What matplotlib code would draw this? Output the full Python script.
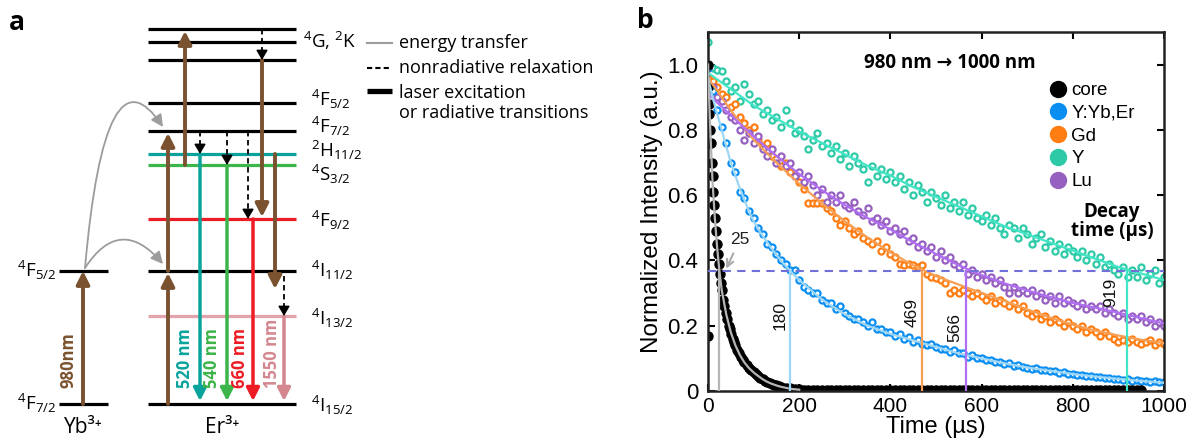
import numpy as np
import matplotlib
matplotlib.use('Agg')
import matplotlib.pyplot as plt
from matplotlib.lines import Line2D
from matplotlib.patches import FancyArrowPatch
from matplotlib.path import Path

plt.rcParams['font.family'] = ['Open Sans', 'DejaVu Sans']
plt.rcParams['mathtext.fontset'] = 'custom'
plt.rcParams['mathtext.rm'] = 'Open Sans'
plt.rcParams['mathtext.it'] = 'Open Sans:italic'
plt.rcParams['mathtext.bf'] = 'Open Sans:bold'
plt.rcParams['mathtext.default'] = 'regular'

# ------------------------------------------------------------------
# panel a : energy level diagram (y = position from the top, in px)
brown = '#7a5230'
teal = '#0aa39b'
green = '#3cb54a'
red = '#ed1c24'
pink = '#d4878f'
pink_level = '#e3a3aa'

er_levels = [29, 42, 60, 103, 131, 154, 165, 219, 271, 316, 404]
er_level_colors = ['k', 'k', 'k', 'k', 'k', teal, green, red, 'k', pink_level, 'k']
er_labels = [r'$^{4}G$, $^{2}K$', r'$^{4}F_{5/2}$', r'$^{4}F_{7/2}$', r'$^{2}H_{11/2}$',
             r'$^{4}S_{3/2}$', r'$^{4}F_{9/2}$', r'$^{4}I_{11/2}$', r'$^{4}I_{13/2}$', r'$^{4}I_{15/2}$']
er_label_y = [48, 106, 133, 157, 181, 227, 277, 325, 412]
er_label_x = [303, 311, 311, 311, 311, 311, 311, 311, 311]

yb_levels = [271, 404]
yb_labels = [r'$^{4}F_{5/2}$', r'$^{4}F_{7/2}$']
yb_label_y = [277, 410]

# (x, from, to, colour)
solid_arrows = [(83, 404, 271, brown), (168, 404, 273, brown), (168, 271, 133, brown),
                (185, 165, 31, brown), (262, 60, 217, brown), (275, 154, 289, brown),
                (200, 154, 401, teal), (227, 165, 401, green), (253, 219, 401, red),
                (284, 316, 401, pink)]
dashed_arrows = [(262, 29, 60), (200, 131, 154), (227, 131, 165), (248, 131, 219), (284, 276, 316)]

wl_text = ['980nm', '520 nm', '540 nm', '660 nm', '1550 nm']
wl_x = [68, 185, 212, 240, 272]
wl_colors = [brown, teal, green, red, pink]

# ------------------------------------------------------------------
# panel b : decay curves
t10 = np.arange(0, 1001, 10)

y_data = [1.07, 0.99, 0.985, 0.98, 0.95, 0.92, 0.93, 0.89, 0.94, 0.91,
          0.88, 0.89, 0.85, 0.86, 0.83, 0.84, 0.81, 0.86, 0.82, 0.79,
          0.80, 0.78, 0.74, 0.77, 0.79, 0.75, 0.76, 0.73, 0.75, 0.71,
          0.73, 0.69, 0.72, 0.70, 0.68, 0.64, 0.69, 0.66, 0.68, 0.65,
          0.67, 0.64, 0.66, 0.62, 0.64, 0.60, 0.63, 0.61, 0.58, 0.61,
          0.59, 0.57, 0.60, 0.56, 0.58, 0.55, 0.58, 0.54, 0.56, 0.53,
          0.52, 0.54, 0.51, 0.53, 0.50, 0.48, 0.51, 0.50, 0.47, 0.50,
          0.48, 0.45, 0.47, 0.48, 0.44, 0.46, 0.43, 0.45, 0.42, 0.44,
          0.43, 0.41, 0.43, 0.40, 0.42, 0.39, 0.41, 0.38, 0.39, 0.37,
          0.36, 0.38, 0.35, 0.37, 0.35, 0.38, 0.34, 0.36, 0.37, 0.33,
          0.35]
lu_data = [0.99, 0.93, 0.90, 0.89, 0.86, 0.84, 0.83, 0.80, 0.77, 0.79,
           0.76, 0.78, 0.74, 0.72, 0.74, 0.70, 0.72, 0.69, 0.70, 0.66,
           0.67, 0.64, 0.66, 0.63, 0.60, 0.62, 0.58, 0.60, 0.58, 0.60,
           0.57, 0.56, 0.58, 0.55, 0.54, 0.56, 0.52, 0.53, 0.51, 0.52,
           0.49, 0.50, 0.48, 0.49, 0.46, 0.47, 0.44, 0.45, 0.43, 0.44,
           0.41, 0.43, 0.40, 0.41, 0.39, 0.38, 0.39, 0.36, 0.37, 0.35,
           0.36, 0.34, 0.35, 0.33, 0.34, 0.32, 0.30, 0.32, 0.30, 0.31,
           0.30, 0.31, 0.29, 0.30, 0.28, 0.29, 0.27, 0.29, 0.27, 0.28,
           0.27, 0.26, 0.27, 0.25, 0.26, 0.25, 0.26, 0.24, 0.25, 0.24,
           0.23, 0.24, 0.22, 0.23, 0.22, 0.23, 0.21, 0.22, 0.20, 0.21,
           0.20]
gd_data = [0.96, 0.95, 0.93, 0.91, 0.90, 0.87, 0.88, 0.84, 0.82, 0.80,
           0.81, 0.77, 0.75, 0.76, 0.72, 0.71, 0.69, 0.70, 0.67, 0.66,
           0.64, 0.62, 0.575, 0.575, 0.575, 0.575, 0.56, 0.55, 0.53, 0.51,
           0.52, 0.50, 0.48, 0.49, 0.47, 0.46, 0.45, 0.46, 0.43, 0.44,
           0.42, 0.41, 0.39, 0.385, 0.39, 0.385, 0.38, 0.385, 0.36, 0.35,
           0.345, 0.34, 0.33, 0.30, 0.31, 0.30, 0.31, 0.30, 0.29, 0.30,
           0.29, 0.28, 0.29, 0.27, 0.28, 0.27, 0.26, 0.27, 0.25, 0.26,
           0.24, 0.23, 0.24, 0.22, 0.23, 0.21, 0.22, 0.21, 0.20, 0.21,
           0.20, 0.19, 0.20, 0.18, 0.19, 0.18, 0.17, 0.18, 0.17, 0.16,
           0.15, 0.155, 0.15, 0.16, 0.15, 0.145, 0.15, 0.155, 0.14, 0.15,
           0.145]
ybe_data = [0.99, 0.92, 0.86, 0.81, 0.76, 0.70, 0.67, 0.61, 0.59, 0.55,
            0.53, 0.50, 0.48, 0.45, 0.44, 0.42, 0.40, 0.39, 0.37, 0.37,
            0.34, 0.32, 0.31, 0.30, 0.30, 0.28, 0.27, 0.27, 0.25, 0.26,
            0.24, 0.23, 0.22, 0.22, 0.21, 0.20, 0.21, 0.19, 0.19, 0.18,
            0.18, 0.17, 0.175, 0.16, 0.165, 0.15, 0.155, 0.145, 0.14, 0.145,
            0.135, 0.13, 0.13, 0.12, 0.125, 0.115, 0.115, 0.105, 0.11, 0.10,
            0.10, 0.095, 0.095, 0.088, 0.09, 0.082, 0.085, 0.078, 0.08, 0.074,
            0.072, 0.068, 0.07, 0.064, 0.065, 0.06, 0.062, 0.056, 0.058, 0.053,
            0.052, 0.049, 0.05, 0.045, 0.047, 0.042, 0.044, 0.04, 0.041, 0.037,
            0.038, 0.034, 0.036, 0.032, 0.034, 0.03, 0.032, 0.029, 0.03, 0.027,
            0.028]

core_t = [0, 1, 1, 2, 2, 3, 4, 6, 8, 10, 12, 14, 16, 18, 20, 22, 24, 26, 28, 30,
          33, 36, 39, 42, 45, 48, 51, 54, 57, 60, 64, 68, 72, 76, 80, 85, 90, 95, 100,
          105, 110, 115, 120, 125, 130, 135, 140, 145, 150, 155, 160, 170, 180, 190, 200,
          210, 220, 230, 240, 250, 260, 270, 280, 290, 300, 310, 320, 330, 340, 350,
          360, 370, 380, 390, 400, 410, 420, 430, 440, 450, 460, 470, 480, 490, 500,
          510, 520, 530, 540, 550, 560, 570, 580, 590, 600, 610, 620, 630, 640, 650,
          660, 670, 680, 690, 700, 710, 720, 730, 740, 750, 760, 770, 780, 790, 800,
          810, 820, 830, 840, 850, 860, 870, 880, 890, 900, 910, 920, 930, 940, 950]
core_data = [1.0, 0.93, 0.17, 0.85, 0.76, 0.88, 0.80, 0.76, 0.70, 0.66, 0.61, 0.57, 0.53, 0.49,
             0.45, 0.42, 0.39, 0.36, 0.33, 0.31, 0.28, 0.26, 0.24, 0.22, 0.20, 0.19, 0.175,
             0.16, 0.15, 0.14, 0.125, 0.115, 0.105, 0.095, 0.088, 0.079, 0.071, 0.064, 0.057,
             0.051, 0.046, 0.041, 0.036, 0.032, 0.028, 0.025, 0.022, 0.019, 0.017, 0.015,
             0.013, 0.010, 0.008, 0.006, 0.005,
             0.004, 0.003, 0.004, 0.002, 0.003, 0.004, 0.002, 0.003, 0.002, 0.004,
             0.003, 0.002, 0.003, 0.004, 0.002, 0.003, 0.002, 0.004, 0.003, 0.002,
             0.003, 0.004, 0.002, 0.003, 0.002, 0.003, 0.004, 0.002, 0.003, 0.002,
             0.004, 0.003, 0.002, 0.003, 0.004, 0.002, 0.003, 0.002, 0.004, 0.003,
             0.002, 0.003, 0.004, 0.002, 0.003, 0.002, 0.003, 0.004, 0.002, 0.003,
             0.002, 0.004, 0.003, 0.002, 0.003, 0.004, 0.002, 0.003, 0.002, 0.004,
             0.003, 0.002, 0.003, 0.004, 0.002, 0.003, 0.002, 0.003, 0.004, 0.002,
             0.003, 0.004, 0.002, 0.003, 0.002]

# fitted curves
fit_t = np.arange(0, 1001, 50)
y_fit = [0.975, 0.925, 0.875, 0.835, 0.795, 0.76, 0.725, 0.69, 0.66, 0.625, 0.595,
         0.565, 0.535, 0.505, 0.48, 0.455, 0.43, 0.405, 0.38, 0.36, 0.34]
lu_fit = [0.91, 0.845, 0.78, 0.72, 0.665, 0.615, 0.57, 0.53, 0.495, 0.455, 0.42,
          0.385, 0.355, 0.33, 0.308, 0.288, 0.27, 0.255, 0.24, 0.223, 0.207]
gd_fit = [0.96, 0.86, 0.77, 0.70, 0.635, 0.575, 0.52, 0.47, 0.425, 0.385, 0.352,
          0.326, 0.30, 0.276, 0.25, 0.225, 0.203, 0.185, 0.17, 0.157, 0.147]
ybe_fit_t = [0, 10, 20, 30, 40, 50, 60, 70, 80, 90, 100, 120, 140, 160, 180, 200, 250, 300,
             350, 400, 450, 500, 550, 600, 650, 700, 750, 800, 850, 900, 950, 1000]
ybe_fit = [0.96, 0.90, 0.85, 0.80, 0.75, 0.70, 0.66, 0.62, 0.585, 0.55, 0.52, 0.475, 0.435,
           0.40, 0.368, 0.34, 0.28, 0.235, 0.20, 0.175, 0.155, 0.135, 0.115, 0.10, 0.085,
           0.072, 0.062, 0.052, 0.044, 0.037, 0.031, 0.025]
core_fit_t = [0, 5, 10, 15, 20, 25, 30, 40, 50, 60, 70, 80, 90, 100, 110, 120, 130, 140,
              150, 160, 170, 180, 200]
core_fit = [1.0, 0.80, 0.64, 0.53, 0.44, 0.368, 0.31, 0.235, 0.18, 0.14, 0.11, 0.087, 0.07,
            0.057, 0.046, 0.036, 0.028, 0.022, 0.017, 0.013, 0.01, 0.007, 0.004]

series_names = ['core', 'Y:Yb,Er', 'Gd', 'Y', 'Lu']
point_colors = ['black', '#0a8ef2', '#ff7d12', '#2ecaa8', '#9660c0']
fit_colors = ['#b5b5b5', '#9ed7f6', '#f7a055', '#42e6c6', '#b06ff2']

# decay times (1/e crossing) in the order core, Y:Yb,Er, Gd, Y, Lu
decay_times = [25, 180, 469, 919, 566]
e_level = 0.368

# ------------------------------------------------------------------
fig = plt.figure(figsize=(11.91, 4.44), dpi=100)

axa = fig.add_axes([0, 0, 690 / 1191, 1])
axa.set_xlim(0, 690)
axa.set_ylim(444, 0)
axa.axis('off')

for y, c in zip(er_levels, er_level_colors):
    axa.plot([148, 296], [y, y], color=c, lw=2.3, solid_capstyle='butt', zorder=1)
for y in yb_levels:
    axa.plot([59, 108], [y, y], color='k', lw=2.3, solid_capstyle='butt', zorder=1)

for lab, x, y in zip(er_labels, er_label_x, er_label_y):
    axa.text(x, y, lab, fontsize=13.5, va='baseline', ha='left')
for lab, y in zip(yb_labels, yb_label_y):
    axa.text(17, y, lab, fontsize=13.5, va='baseline', ha='left')
axa.text(83, 433, 'Yb\u00b3\u207a', fontsize=15, ha='center', va='baseline')
axa.text(222, 433, 'Er\u00b3\u207a', fontsize=15, ha='center', va='baseline')

for x, y0, y1, c in solid_arrows:
    w = 2.8 if c == brown else 2.5
    axa.annotate('', xy=(x, y1), xytext=(x, y0),
                 arrowprops=dict(arrowstyle='-|>,head_length=0.55,head_width=0.28',
                                 color=c, lw=w, mutation_scale=14, shrinkA=0, shrinkB=0),
                 zorder=3)

for x, y0, y1 in dashed_arrows:
    axa.plot([x, x], [y0, y1 - 7], color='k', lw=1.3, ls=(0, (3, 2)), zorder=3)
    axa.annotate('', xy=(x, y1), xytext=(x, y1 - 9),
                 arrowprops=dict(arrowstyle='-|>,head_length=0.6,head_width=0.35',
                                 color='k', lw=1.0, mutation_scale=10, shrinkA=0, shrinkB=0),
                 zorder=3)

for txt, x, c in zip(wl_text, wl_x, wl_colors):
    axa.text(x, 388, txt, rotation=90, color=c, fontsize=12, fontweight='bold',
             ha='center', va='bottom')

# energy transfer arrows
for ctrl, end in [((105, 40), (163, 127)), ((120, 214), (163, 264))]:
    p = Path([(85, 268), ctrl, end], [Path.MOVETO, Path.CURVE3, Path.CURVE3])
    axa.add_patch(FancyArrowPatch(path=p, arrowstyle='-|>,head_length=0.6,head_width=0.3',
                                  mutation_scale=12, color='#9c9c9c', lw=1.3, zorder=2))

# key
axa.plot([367, 392], [43, 43], color='#9c9c9c', lw=1.5)
axa.plot([367, 392], [68, 68], color='k', lw=1.5, ls=(0, (2.5, 1.5)))
axa.plot([367, 392], [91, 91], color='k', lw=3.8, solid_capstyle='butt')
axa.text(399, 43, 'energy transfer', fontsize=13, va='center')
axa.text(399, 68, 'nonradiative relaxation', fontsize=13, va='center')
axa.text(399, 93, 'laser excitation', fontsize=13, va='center')
axa.text(399, 113, 'or radiative transitions', fontsize=13, va='center')

axa.text(17, 22, 'a', fontsize=19, fontweight='bold', ha='center', va='center')
axa.text(645, 20, 'b', fontsize=19, fontweight='bold', ha='center', va='center')

# ------------------------------------------------------------------
axb = fig.add_axes([708 / 1191, 1 - 391 / 444, 456 / 1191, 359 / 444])
hf = 'Liberation Sans'

for data, c in zip([y_data, gd_data, lu_data, ybe_data], [point_colors[3], point_colors[2],
                                                          point_colors[4], point_colors[1]]):
    axb.plot(t10, data, 'o', ms=4.4, mfc='white', mec=c, mew=1.6, ls='none', zorder=2)
axb.plot(core_t, core_data, 'o', ms=6.5, color='black', ls='none', zorder=2)

axb.plot(fit_t, y_fit, color=fit_colors[3], lw=1.6, zorder=3)
axb.plot(fit_t, gd_fit, color=fit_colors[2], lw=1.6, zorder=3)
axb.plot(fit_t, lu_fit, color=fit_colors[4], lw=1.6, zorder=3)
axb.plot(ybe_fit_t, ybe_fit, color=fit_colors[1], lw=1.6, zorder=3)
axb.plot(core_fit_t, core_fit, color=fit_colors[0], lw=1.6, zorder=3)

axb.axhline(e_level, color='#7070d8', lw=1.5, ls=(0, (4, 3)), zorder=4)
for t, c in zip(decay_times, fit_colors):
    axb.plot([t, t], [0, e_level], color=c, lw=1.6, zorder=4)

for lab, tx, ty in [('180', 158, 0.232), ('469', 447, 0.242), ('566', 542, 0.196), ('919', 882, 0.303)]:
    axb.text(tx, ty, lab, rotation=90, fontsize=12.5, family=hf, ha='center', va='center', color='#111')
axb.annotate('25', xy=(40, 0.375), xytext=(70, 0.465), fontsize=12.5, family=hf,
             ha='center', va='center', color='#222',
             arrowprops=dict(arrowstyle='->', color='#aaaaaa', lw=1.5, shrinkA=3, shrinkB=0))

axb.text(531, 1.005, '980 nm \u2192 1000 nm', fontsize=13.5, fontweight='bold',
         ha='center', va='center')
axb.text(886, 0.52, 'Decay\ntime (\u00b5s)', fontsize=13.5, fontweight='bold',
         ha='center', va='center', linespacing=0.9)

handles = [Line2D([], [], marker='o', ls='none', ms=11.5, color=c) for c in point_colors]
leg = axb.legend(handles, series_names, loc='upper left', bbox_to_anchor=(0.723, 0.887),
                 frameon=False, prop={'family': hf, 'size': 13.5}, handletextpad=0.1,
                 labelspacing=0.3, borderpad=0, handlelength=1.2)

axb.set_xlim(0, 1000)
axb.set_ylim(0, 1.1)
axb.set_xticks([0, 200, 400, 600, 800, 1000])
axb.set_yticks([0, 0.2, 0.4, 0.6, 0.8, 1.0])
axb.set_yticklabels(['0', '0.2', '0.4', '0.6', '0.8', '1.0'])
axb.tick_params(direction='in', top=True, right=True, length=5, width=1.5, labelsize=15, pad=4)
axb.tick_params(axis='y', labelsize=16, pad=7)
for lab in axb.get_xticklabels() + axb.get_yticklabels():
    lab.set_family(hf)
for s in axb.spines.values():
    s.set_linewidth(1.8)
    s.set_color('#222222')
axb.set_xlabel('Time (\u00b5s)', fontsize=17, family=hf, labelpad=0)
axb.set_ylabel('Normalized Intensity (a.u.)', fontsize=17.5, family=hf, labelpad=3)

fig.savefig('out.png', dpi=100)
